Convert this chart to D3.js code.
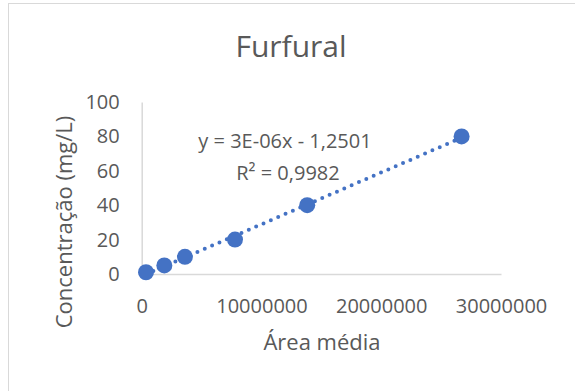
<!DOCTYPE html>
<html>
<head>
<meta charset="utf-8">
<script src="https://cdn.jsdelivr.net/npm/d3@7"></script>
<style>
  body { margin: 0; background: #fff; }
  svg { display: block; }
  text { font-family: "Open Sans", sans-serif; fill: #595959; }
</style>
</head>
<body>
<svg id="chart" width="575" height="391"></svg>
<script>
// Calibration data: mean peak area vs. furfural concentration
const chartTitle = "Furfural";
const xAxisTitle = "Área média";
const yAxisTitle = "Concentração (mg/L)";
const areaMedia = [360000, 1890000, 3610000, 7790000, 13820000, 26710000];
const concentracao = [1, 5, 10, 20, 40, 80];
const xTickValues = [0, 10000000, 20000000, 30000000];
const yTickValues = [0, 20, 40, 60, 80, 100];
const trendLabels = ["y = 3E-06x - 1,2501", "R² = 0,9982"];

const blue = "#4472C4";
const axisGrey = "#d9d9d9";

const svg = d3.select("#chart");

// chart frame
svg.append("rect")
  .attr("x", 8.5).attr("y", 3.5)
  .attr("width", 600).attr("height", 420)
  .attr("fill", "#fff").attr("stroke", axisGrey);

const plot = { left: 141.7, right: 501, top: 102, bottom: 274 };

const x = d3.scaleLinear().domain([0, 30000000]).range([plot.left, plot.right]);
const y = d3.scaleLinear().domain([0, 100]).range([plot.bottom, plot.top]);

// axes
const xAxis = d3.axisBottom(x).tickValues(xTickValues).tickFormat(d3.format("d"))
  .tickSizeInner(0).tickSizeOuter(0).tickPadding(25);
const yAxis = d3.axisLeft(y).tickValues(yTickValues).tickFormat(d3.format("d"))
  .tickSizeInner(0).tickSizeOuter(0).tickPadding(22);

const gx = svg.append("g").attr("transform", `translate(0,${plot.bottom})`).call(xAxis);
const gy = svg.append("g").attr("transform", `translate(${plot.left},0)`).call(yAxis);
[gx, gy].forEach(g => {
  g.select(".domain").attr("stroke", axisGrey).attr("stroke-width", 1.5);
  g.selectAll("text").attr("font-family", "Open Sans").attr("font-size", 20).attr("fill", "#595959");
});

// least-squares trendline over the data range
const n = areaMedia.length;
const mx = d3.mean(areaMedia), my = d3.mean(concentracao);
let sxy = 0, sxx = 0;
for (let i = 0; i < n; i++) {
  sxy += (areaMedia[i] - mx) * (concentracao[i] - my);
  sxx += (areaMedia[i] - mx) ** 2;
}
const slope = sxy / sxx, intercept = my - slope * mx;
const [x0, x1] = d3.extent(areaMedia);

svg.append("path")
  .datum([[x0, slope * x0 + intercept], [x1, slope * x1 + intercept]])
  .attr("d", d3.line().x(d => x(d[0])).y(d => y(d[1])))
  .attr("fill", "none")
  .attr("stroke", blue)
  .attr("stroke-width", 4)
  .attr("stroke-linecap", "round")
  .attr("stroke-dasharray", "0 8");

// data points
svg.append("g").selectAll("circle")
  .data(areaMedia.map((a, i) => [a, concentracao[i]]))
  .join("circle")
  .attr("cx", d => x(d[0]))
  .attr("cy", d => y(d[1]))
  .attr("r", 8)
  .attr("fill", blue);

// trendline equation
svg.append("g").selectAll("text")
  .data(trendLabels)
  .join("text")
  .attr("x", (d, i) => i === 0 ? 285 : 288)
  .attr("y", (d, i) => 148 + i * 31.5)
  .attr("text-anchor", "middle")
  .attr("font-size", 20)
  .text(d => d);

// titles
svg.append("text")
  .attr("x", 291).attr("y", 57)
  .attr("text-anchor", "middle")
  .attr("font-size", 30)
  .text(chartTitle);

svg.append("text")
  .attr("x", 322).attr("y", 350)
  .attr("text-anchor", "middle")
  .attr("font-size", 22)
  .text(xAxisTitle);

svg.append("text")
  .attr("transform", "translate(72,222) rotate(-90)")
  .attr("text-anchor", "middle")
  .attr("font-size", 22)
  .text(yAxisTitle);
</script>
</body>
</html>
